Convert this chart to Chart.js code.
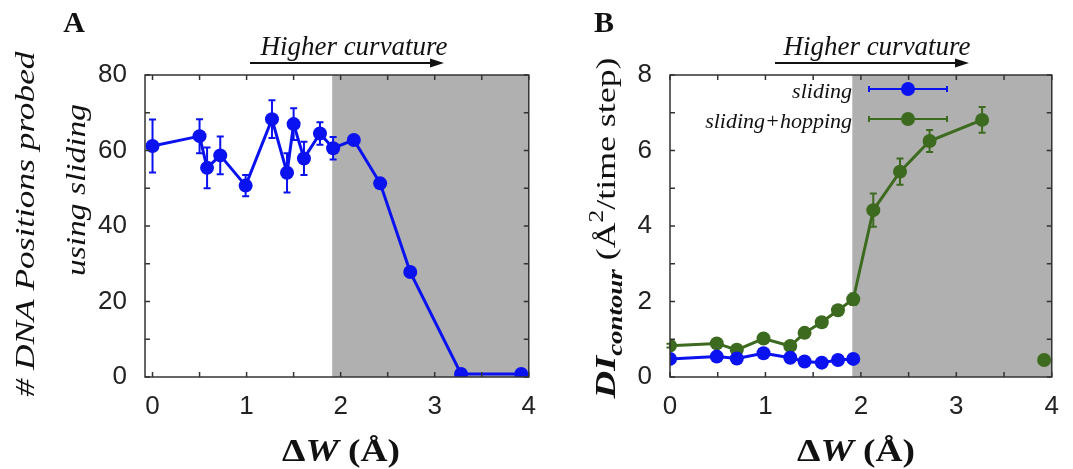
<!DOCTYPE html>
<html>
<head>
<meta charset="utf-8">
<script src="https://cdn.jsdelivr.net/npm/chart.js@4.4.0/dist/chart.umd.min.js"></script>
<style>
html, body { margin: 0; padding: 0; background: #fff; }
#wrap { position: relative; width: 1073px; height: 469px; }
#boxA { position: absolute; left: 0; top: 0; width: 550px; height: 469px; }
#boxB { position: absolute; left: 550px; top: 0; width: 523px; height: 469px; }
</style>
</head>
<body>
<div id="wrap">
  <div id="boxA"><canvas id="chartA"></canvas></div>
  <div id="boxB"><canvas id="chartB"></canvas></div>
</div>
<script>
// ---- data ----
// panel A: # DNA positions probed using sliding
var dwA     = [0, 0.5, 0.58, 0.72, 0.99, 1.27, 1.43, 1.5, 1.61, 1.78, 1.92, 2.14, 2.42, 2.74, 3.28, 3.92];
var posA    = [61.2, 63.8, 55.4, 58.7, 50.7, 68.3, 54.1, 67.0, 57.9, 64.5, 60.6, 62.8, 51.3, 27.8, 0.8, 0.8];
var posErrA = [7, 4.5, 5.4, 5, 2.8, 5, 5.2, 4.2, 4.4, 3, 3, 0.6, 0.4, 0.4, 0, 0];

// panel B: D1 contour
var dwSliding   = [0, 0.49, 0.70, 0.98, 1.26, 1.41, 1.59, 1.76, 1.92];
var dSliding    = [0.48, 0.54, 0.49, 0.63, 0.51, 0.41, 0.38, 0.45, 0.48];
var dwHopping   = [0, 0.49, 0.70, 0.98, 1.26, 1.41, 1.59, 1.76, 1.92, 2.13, 2.41, 2.72, 3.27];
var dHopping    = [0.83, 0.89, 0.72, 1.02, 0.82, 1.17, 1.45, 1.77, 2.06, 4.42, 5.44, 6.25, 6.81];
var dHoppingErr = [0.05, 0.05, 0.05, 0.05, 0.05, 0.06, 0.06, 0.08, 0.15, 0.44, 0.35, 0.29, 0.34];
var dwHopLast   = [3.92];
var dHopLast    = [0.45];

var xTicks  = [0, 1, 2, 3, 4];
var yTicksA = [0, 20, 40, 60, 80];
var yTicksB = [0, 2, 4, 6, 8];
var shadeFrom = 1.91;   // start of the "higher curvature" region

var BLUE = '#0a12f0';
var GREEN = '#3c6a1e';
var SHADE = '#b0b0b0';

function pts(xs, ys) { return xs.map(function(x, i){ return {x: x, y: ys[i]}; }); }

// ---- text helpers ----
function runsWidth(ctx, runs) {
  var w = 0;
  runs.forEach(function(r){ ctx.font = r.f; w += ctx.measureText(r.t).width; });
  return w;
}
function drawLabel(ctx, runs, x, y, rotate, len) {
  ctx.save();
  ctx.translate(x, y);
  if (rotate) ctx.rotate(-Math.PI / 2);
  var w = runsWidth(ctx, runs);
  ctx.scale(len ? len / w : 1, 1);
  ctx.textAlign = 'left';
  ctx.textBaseline = 'alphabetic';
  var cx = -w / 2;
  runs.forEach(function(r){
    ctx.font = r.f;
    ctx.fillText(r.t, cx, r.dy || 0);
    cx += ctx.measureText(r.t).width;
  });
  ctx.restore();
}

var deco = {
  id: 'deco',
  beforeDatasetsDraw: function(chart, args, o) {
    var ctx = chart.ctx, a = chart.chartArea, xs = chart.scales.x, ys = chart.scales.y;
    ctx.save();
    var x0 = xs.getPixelForValue(shadeFrom);
    ctx.fillStyle = SHADE;
    ctx.fillRect(x0, a.top, a.right - x0, a.bottom - a.top);
    // error bars
    chart.data.datasets.forEach(function(ds){
      if (!ds.errors) return;
      ctx.strokeStyle = ds.borderColor;
      ctx.lineWidth = 2;
      ds.data.forEach(function(p, j){
        var e = ds.errors[j];
        if (!e) return;
        var px = xs.getPixelForValue(p.x);
        var y1 = ys.getPixelForValue(p.y + e), y2 = ys.getPixelForValue(p.y - e);
        ctx.beginPath();
        ctx.moveTo(px, y1); ctx.lineTo(px, y2);
        ctx.moveTo(px - 3.5, y1); ctx.lineTo(px + 3.5, y1);
        ctx.moveTo(px - 3.5, y2); ctx.lineTo(px + 3.5, y2);
        ctx.stroke();
      });
    });
    ctx.restore();
  },
  afterDraw: function(chart, args, o) {
    var ctx = chart.ctx, a = chart.chartArea, xs = chart.scales.x, ys = chart.scales.y;
    ctx.save();
    // frame + inward ticks
    ctx.strokeStyle = '#333';
    ctx.lineWidth = 1.5;
    ctx.strokeRect(a.left, a.top, a.right - a.left, a.bottom - a.top);
    ctx.beginPath();
    for (var v = 0; v <= xs.max + 1e-9; v += 0.5) {
      var px = xs.getPixelForValue(v);
      ctx.moveTo(px, a.bottom); ctx.lineTo(px, a.bottom - 5);
      ctx.moveTo(px, a.top); ctx.lineTo(px, a.top + 5);
    }
    for (var w = 0; w <= ys.max + 1e-9; w += o.yMinor) {
      var py = ys.getPixelForValue(w);
      ctx.moveTo(a.left, py); ctx.lineTo(a.left + 5, py);
      ctx.moveTo(a.right, py); ctx.lineTo(a.right - 5, py);
    }
    ctx.stroke();

    // everything below in page coordinates
    ctx.translate(-o.left, 0);
    ctx.fillStyle = '#111';
    ctx.strokeStyle = '#111';

    // panel letter
    ctx.font = 'bold 30px "Liberation Serif"';
    ctx.textAlign = 'center';
    ctx.textBaseline = 'alphabetic';
    ctx.fillText(o.letter, o.letterX, 32);

    // "Higher curvature" + arrow
    ctx.font = 'italic 27px "Liberation Serif"';
    ctx.fillText('Higher curvature', o.titleX, 55);
    ctx.lineWidth = 1.8;
    ctx.beginPath();
    ctx.moveTo(o.arrow[0], 63); ctx.lineTo(o.arrow[1] - 10, 63);
    ctx.stroke();
    ctx.beginPath();
    ctx.moveTo(o.arrow[1], 63); ctx.lineTo(o.arrow[1] - 14, 58.5); ctx.lineTo(o.arrow[1] - 14, 67.5);
    ctx.closePath(); ctx.fill();

    // x axis title
    drawLabel(ctx, [
      {t: '\u0394', f: 'bold 31px "Liberation Serif"'},
      {t: 'W', f: 'bold italic 31px "Liberation Serif"'},
      {t: ' (\u00c5)', f: 'bold 31px "Liberation Serif"'}
    ], o.xTitleX, 461, false, 118);

    // y axis titles
    o.yTitles.forEach(function(t){
      drawLabel(ctx, t.runs, t.x, t.y, true, t.len);
    });

    // legend
    if (o.legend) {
      o.legend.forEach(function(l){
        ctx.font = 'italic 22px "Liberation Serif"';
        ctx.textAlign = 'right';
        ctx.textBaseline = 'middle';
        ctx.fillStyle = '#111';
        ctx.fillText(l.text, 852, l.y + 3);
        ctx.strokeStyle = l.color;
        ctx.fillStyle = l.color;
        ctx.lineWidth = 2;
        ctx.beginPath();
        ctx.moveTo(869, l.y); ctx.lineTo(947, l.y);
        ctx.moveTo(869, l.y - 3); ctx.lineTo(869, l.y + 3);
        ctx.moveTo(947, l.y - 3); ctx.lineTo(947, l.y + 3);
        ctx.stroke();
        ctx.beginPath();
        ctx.arc(908, l.y, 7, 0, Math.PI * 2);
        ctx.fill();
      });
    }
    ctx.restore();
  }
};

function axisX(xmin, height) {
  return {
    type: 'linear', min: xmin, max: 4,
    afterBuildTicks: function(s){ s.ticks = xTicks.map(function(v){ return {value: v}; }); },
    afterFit: function(s){ s.height = height; },
    grid: {display: false, drawTicks: false},
    border: {display: false},
    ticks: {font: {family: 'Liberation Sans', size: 26}, color: '#222', padding: 14, autoSkip: false, maxRotation: 0}
  };
}
function axisY(ymax, ticks, width) {
  return {
    type: 'linear', min: 0, max: ymax,
    afterBuildTicks: function(s){ s.ticks = ticks.map(function(v){ return {value: v}; }); },
    afterFit: function(s){ s.width = width; },
    grid: {display: false, drawTicks: false},
    border: {display: false},
    ticks: {font: {family: 'Liberation Sans', size: 26}, color: '#222', padding: 18, autoSkip: false}
  };
}

Chart.register(deco);

new Chart(document.getElementById('chartA'), {
  type: 'line',
  data: {
    datasets: [{
      data: pts(dwA, posA), errors: posErrA,
      borderColor: BLUE, backgroundColor: BLUE, borderWidth: 3,
      pointRadius: 7, pointBorderWidth: 0, pointBackgroundColor: BLUE, tension: 0
    }]
  },
  options: {
    animation: false, responsive: true, maintainAspectRatio: false,
    layout: {padding: {top: 75, right: 13, bottom: 0, left: 0}},
    scales: { x: axisX(-0.08, 92), y: axisY(80, yTicksA, 145) },
    plugins: {
      legend: {display: false}, tooltip: {enabled: false},
      deco: {
        left: 0, yMinor: 10, letter: 'A', letterX: 74,
        titleX: 354, arrow: [250, 444], xTitleX: 341,
        yTitles: [
          {runs: [{t: '# DNA Positions probed', f: 'italic 28px "Liberation Serif"'}], x: 34, y: 224, len: 345},
          {runs: [{t: 'using sliding', f: 'italic 28px "Liberation Serif"'}], x: 85, y: 190, len: 172}
        ]
      }
    }
  }
});

new Chart(document.getElementById('chartB'), {
  type: 'line',
  data: {
    datasets: [{
      data: pts(dwSliding, dSliding),
      borderColor: BLUE, backgroundColor: BLUE, borderWidth: 3,
      pointRadius: 7, pointBorderWidth: 0, pointBackgroundColor: BLUE, tension: 0
    }, {
      data: pts(dwHopping, dHopping), errors: dHoppingErr,
      borderColor: GREEN, backgroundColor: GREEN, borderWidth: 3,
      pointRadius: 7, pointBorderWidth: 0, pointBackgroundColor: GREEN, tension: 0
    }, {
      data: pts(dwHopLast, dHopLast), showLine: false,
      borderColor: GREEN, backgroundColor: GREEN,
      pointRadius: 7, pointBorderWidth: 0, pointBackgroundColor: GREEN
    }]
  },
  options: {
    animation: false, responsive: true, maintainAspectRatio: false,
    layout: {padding: {top: 75, right: 13, bottom: 0, left: 0}},
    scales: { x: axisX(0, 92), y: axisY(8, yTicksB, 120) },
    plugins: {
      legend: {display: false}, tooltip: {enabled: false},
      deco: {
        left: 550, yMinor: 1, letter: 'B', letterX: 604,
        titleX: 877, arrow: [775, 969], xTitleX: 856,
        yTitles: [
          {runs: [
            {t: 'DI', f: 'bold italic 30px "Liberation Serif"'},
            {t: 'contour', f: 'bold italic 21px "Liberation Serif"', dy: 7},
            {t: ' (\u00c5', f: '28px "Liberation Serif"'},
            {t: '2', f: '20px "Liberation Serif"', dy: -12},
            {t: '/time step)', f: '28px "Liberation Serif"'}
          ], x: 615, y: 228, len: 341}
        ],
        legend: [
          {text: 'sliding', y: 89, color: BLUE},
          {text: 'sliding+hopping', y: 119, color: GREEN}
        ]
      }
    }
  }
});
</script>
</body>
</html>
